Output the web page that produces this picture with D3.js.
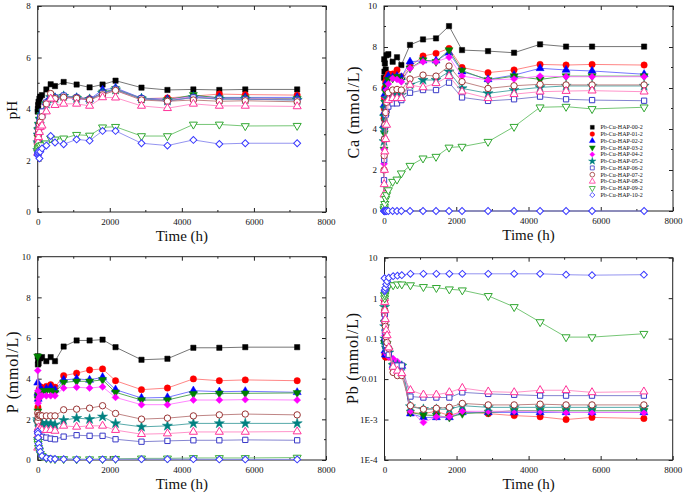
<!DOCTYPE html>
<html><head><meta charset="utf-8">
<script src="https://cdn.jsdelivr.net/npm/d3@7"></script>
<style>
body{margin:0;background:#fff}
svg{display:block}
svg text{font-family:"Liberation Serif","DejaVu Serif",serif !important;fill:#111}
</style></head>
<body><svg id="c" width="685" height="493"></svg>
<script>
// ---------- DATA ----------
const times = [1, 6, 12, 24, 48, 72, 120, 240, 360, 480, 720, 1080, 1440, 1800, 2160, 2880, 3600, 4320, 5040, 5760, 7200];
const seriesNames = ["Pb-Cu-HAP-00-2","Pb-Cu-HAP-01-2","Pb-Cu-HAP-02-2","Pb-Cu-HAP-03-2","Pb-Cu-HAP-04-2","Pb-Cu-HAP-05-2","Pb-Cu-HAP-06-2","Pb-Cu-HAP-07-2","Pb-Cu-HAP-08-2","Pb-Cu-HAP-09-2","Pb-Cu-HAP-10-2"];
const xTicks = [0, 2000, 4000, 6000, 8000];
const pHTicks = [0, 2, 4, 6, 8];
const concTicks = [0, 2, 4, 6, 8, 10];
const pbTicks = [1e-4, 1e-3, 0.01, 0.1, 1, 10];
const pbTickLabels = ["1E-4", "1E-3", "0.01", "0.1", "1", "10"];

const pHValues = [
 [3.9,4.0,4.15,4.28,4.4,4.48,4.54,4.76,4.96,4.89,5.05,4.95,4.84,4.95,5.1,4.83,4.74,4.76,4.74,4.76,4.76],
 [2.3,2.6,2.9,3.1,3.3,3.5,3.8,4.2,4.5,4.4,4.45,4.45,4.4,4.6,4.75,4.4,4.43,4.5,4.58,4.56,4.54],
 [2.5,2.8,3.1,3.3,3.5,3.7,3.85,4.25,4.5,4.45,4.5,4.45,4.38,4.74,4.82,4.42,4.38,4.5,4.45,4.45,4.45],
 [2.6,2.9,3.2,3.4,3.6,3.75,3.9,4.2,4.45,4.42,4.48,4.42,4.35,4.65,4.78,4.4,4.35,4.55,4.42,4.42,4.4],
 [2.2,2.5,2.8,3.0,3.2,3.4,3.7,4.15,4.45,4.4,4.45,4.4,4.35,4.6,4.72,4.38,4.35,4.48,4.4,4.4,4.38],
 [2.4,2.7,3.0,3.2,3.4,3.6,3.8,4.2,4.45,4.42,4.5,4.42,4.38,4.62,4.75,4.4,4.32,4.45,4.38,4.38,4.35],
 [2.4,2.7,3.0,3.3,3.5,3.7,3.9,4.25,4.5,4.45,4.52,4.45,4.38,4.62,4.78,4.42,4.3,4.45,4.4,4.38,4.35],
 [2.5,2.8,3.0,3.2,3.4,3.5,3.7,4.2,4.6,4.4,4.45,4.42,4.35,4.55,4.72,4.35,4.3,4.35,4.3,4.32,4.28],
 [2.3,2.5,2.7,2.9,3.1,3.3,3.35,3.9,4.4,4.15,4.2,4.2,4.12,4.45,4.44,4.12,4.03,4.2,4.12,4.12,4.1],
 [2.3,2.4,2.45,2.5,2.55,2.58,2.6,2.67,2.86,2.82,2.86,3.0,2.97,3.29,3.31,2.95,2.95,3.4,3.4,3.34,3.35],
 [2.2,2.25,2.3,2.35,2.08,2.34,2.47,2.58,2.95,2.7,2.63,2.82,2.77,3.15,3.15,2.67,2.58,2.8,2.64,2.67,2.67]
];
const caValues = [
 [6.5,7.4,6.8,7.2,6.9,7.6,7.65,7.28,7.5,7.12,8.1,8.37,8.42,9.02,7.85,7.8,7.72,8.13,8.02,8.02,8.02],
 [4.5,5.0,5.5,6.0,6.3,6.5,6.68,6.68,6.88,6.55,7.04,7.56,7.69,7.93,7.0,6.75,6.88,7.15,7.12,7.15,7.12],
 [4.2,4.8,5.2,5.7,6.0,6.3,6.58,6.52,6.58,6.52,7.28,7.33,7.33,7.72,6.8,6.42,6.63,6.96,6.88,6.83,6.67],
 [3.0,3.8,4.6,5.3,5.8,6.1,6.4,6.47,6.55,6.39,6.96,7.36,7.28,7.85,6.85,6.39,6.58,6.42,6.58,6.58,6.58],
 [2.3,3.0,4.0,4.8,5.5,5.9,6.2,6.47,6.42,6.3,6.96,7.28,7.28,7.5,6.58,6.39,6.44,6.58,6.55,6.55,6.55],
 [3.4,4.0,4.6,5.0,5.3,5.5,5.66,5.7,5.7,5.66,6.15,6.39,6.39,6.8,5.98,5.74,5.9,6.03,6.1,6.1,6.1],
 [1.5,2.5,3.5,4.2,4.7,4.9,5.09,5.25,5.25,5.41,5.77,5.9,5.9,6.26,5.54,5.37,5.45,5.58,5.45,5.41,5.38],
 [2.0,2.7,3.5,4.2,4.8,5.3,5.77,5.9,5.93,5.9,6.44,6.63,6.58,7.07,6.31,5.98,6.11,6.18,6.15,6.15,6.15],
 [0.8,1.3,2.0,2.9,3.5,4.2,5.41,5.5,5.5,5.5,6.15,6.03,6.23,6.58,5.82,5.5,5.7,5.82,5.85,5.87,5.82],
 [0.05,0.1,0.2,0.35,0.6,0.78,1.02,1.43,1.54,1.84,2.21,2.57,2.65,3.1,3.14,3.38,4.11,5.06,5.09,4.98,5.06],
 [0,0,0,0,0,0,0,0,0,0,0,0,0,0,0,0,0,0,0,0,0]
];
const pValues = [
 [5.1,4.7,4.9,4.75,5.05,5.0,5.06,4.86,5.06,4.86,5.58,5.88,5.88,5.92,5.55,4.93,4.98,5.52,5.52,5.55,5.55],
 [3.2,2.6,3.0,3.3,3.5,3.6,3.54,3.62,3.7,3.58,4.15,4.27,4.43,4.48,3.9,3.46,3.54,3.99,3.9,3.94,3.9],
 [3.8,3.3,3.0,3.2,3.4,3.5,3.41,3.5,3.58,3.44,3.94,3.99,3.94,4.07,3.46,3.05,3.08,3.41,3.36,3.38,3.33],
 [5.1,2.4,3.0,3.2,3.3,3.4,3.35,3.4,3.41,3.3,3.82,3.87,3.87,3.94,3.33,2.95,2.95,3.25,3.28,3.28,3.3],
 [4.4,3.4,2.8,3.0,3.1,3.15,3.16,3.16,3.16,3.16,3.54,3.58,3.54,3.6,3.08,2.72,2.72,2.95,2.95,2.97,2.95],
 [2.0,1.9,1.85,1.8,1.8,1.8,1.8,1.8,1.8,1.73,1.96,2.06,2.01,2.13,1.8,1.63,1.68,1.8,1.8,1.8,1.8],
 [1.4,1.35,1.3,1.2,1.15,1.14,1.14,1.1,1.05,1.02,1.15,1.22,1.19,1.19,1.02,0.9,0.94,0.97,0.97,0.99,0.97],
 [2.3,1.9,2.1,2.2,2.2,2.2,2.17,2.17,2.17,2.17,2.47,2.5,2.55,2.67,2.29,2.01,2.06,2.17,2.22,2.26,2.22],
 [0.6,1.2,1.5,1.6,1.5,1.5,1.47,1.47,1.47,1.43,1.68,1.63,1.68,1.68,1.47,1.27,1.3,1.38,1.38,1.38,1.4],
 [1.0,0.9,0.8,0.6,0.45,0.3,0.2,0.1,0.07,0.05,0.05,0.04,0.04,0.05,0.06,0.08,0.08,0.1,0.1,0.1,0.12],
 [1.4,1.3,1.1,0.8,0.6,0.4,0.2,0.1,0.06,0.05,0.04,0.03,0.02,0.03,0.04,0.04,0.04,0.04,0.03,0.03,0.03]
];
const pbValues = [
 null,
 [0.4,0.09,0.04,0.035,0.035,0.038,0.035,0.022,0.022,0.021,0.0015,0.0014,0.0016,0.00125,0.0016,0.0014,0.00125,0.00117,0.001,0.00113,0.00106],
 [0.3,0.1,0.05,0.04,0.04,0.04,0.04,0.022,0.022,0.021,0.0014,0.00113,0.00113,0.00113,0.0015,0.0015,0.0015,0.0015,0.0015,0.0015,0.0015],
 [0.25,0.08,0.075,0.07,0.07,0.075,0.05,0.022,0.022,0.021,0.0015,0.0013,0.00125,0.00113,0.0014,0.0015,0.00165,0.00165,0.00165,0.00165,0.00165],
 [0.8,0.23,0.12,0.06,0.045,0.04,0.035,0.032,0.027,0.021,0.0016,0.00085,0.00117,0.00117,0.0016,0.0016,0.0016,0.0016,0.0015,0.0015,0.0015],
 [0.6,0.2,0.1,0.07,0.06,0.055,0.045,0.022,0.022,0.021,0.0021,0.0018,0.0018,0.0018,0.0022,0.002,0.002,0.002,0.002,0.002,0.002],
 [0.9,0.4,0.15,0.1,0.07,0.05,0.04,0.0216,0.0216,0.0216,0.0037,0.0035,0.0035,0.0035,0.0047,0.0043,0.0041,0.0039,0.0039,0.0039,0.0039],
 [0.8,0.5,0.26,0.2,0.11,0.08,0.057,0.0146,0.0122,0.0122,0.0022,0.0018,0.0019,0.002,0.0025,0.0023,0.0023,0.0024,0.0023,0.0023,0.0023],
 [1.0,0.8,0.5,0.3,0.16,0.12,0.06,0.02,0.016,0.0139,0.0053,0.0041,0.0041,0.0047,0.006,0.0049,0.0047,0.0053,0.0053,0.0047,0.0049],
 [1.2,1.0,1.18,1.35,1.6,1.9,2.1,2.1,2.2,2.2,2.1,1.9,1.8,1.66,1.57,1.14,0.607,0.257,0.109,0.109,0.132],
 [3.1,1.5,1.6,1.8,2.2,2.6,3.2,3.5,3.6,3.7,4.0,4.0,4.0,4.0,4.0,4.0,4.0,4.0,3.8,3.7,3.8]
];

// ---------- STYLE ----------
const FONT = '"Liberation Serif","DejaVu Serif",serif';
const colors = ["#000000","#ff0000","#0000ff","#008000","#ff00ff","#008080","#3a3ac8","#993333","#ff3399","#33a833","#3a3aff"];
const lineColors = ["#666666","#ff7777","#6666ff","#44a044","#ff77ff","#44a0a0","#7777cc","#b87777","#ff88c4","#66c066","#8888ee"];
const shapes = ["square","circle","triangle","triangleDown","diamond","star","square","circle","triangle","triangleDown","diamond"];
const filled = [true,true,true,true,true,true,false,false,false,false,false];

function symPath(shape, s) {
  switch (shape) {
    case "square": return d3.symbol(d3.symbolSquare, 28*s)();
    case "circle": return d3.symbol(d3.symbolCircle, 32*s)();
    case "triangle": return d3.symbol(d3.symbolTriangle, 28*s)();
    case "triangleDown": return d3.symbol(d3.symbolTriangle, 28*s)();
    case "diamond": return d3.symbol(d3.symbolSquare, 24*s)();
    case "star": return d3.symbol(d3.symbolStar, 32*s)();
  }
}
function symRot(shape){ return shape==="triangleDown" ? 180 : (shape==="diamond" ? 45 : 0); }

const svg = d3.select("#c").attr("font-family", FONT);

const panels = [
  {x0:37.7, x1:326, y0:6, y1:212, data:pHValues, domain:[0,8], ticks:pHTicks, minor:[1,3,5,7], title:"pH", tx:12, ty:110, log:false},
  {x0:384, x1:673, y0:6, y1:211, data:caValues, domain:[0,10], ticks:concTicks, minor:[1,3,5,7,9], title:"Ca (mmol/L)", tx:353, ty:112, log:false, legend:true},
  {x0:37.7, x1:326, y0:256.7, y1:460, data:pValues, domain:[0,10], ticks:concTicks, minor:[1,3,5,7,9], title:"P (mmol/L)", tx:12, ty:372, log:false},
  {x0:384.5, x1:672.7, y0:257.7, y1:460, data:pbValues, domain:[1e-4,10], ticks:pbTicks, minor:[], title:"Pb (mmol/L)", tx:352, ty:358, log:true}
];

panels.forEach(p => {
  const x = d3.scaleLinear().domain([0,8000]).range([p.x0, p.x1]);
  const y = (p.log ? d3.scaleLog() : d3.scaleLinear()).domain(p.domain).range([p.y1, p.y0]);
  const g = svg.append("g");

  g.append("rect").attr("x",p.x0).attr("y",p.y0).attr("width",p.x1-p.x0).attr("height",p.y1-p.y0)
    .attr("fill","none").attr("stroke","#222").attr("stroke-width",1);

  const xAxB = d3.axisBottom(x).tickValues(xTicks).tickSizeInner(-4).tickSizeOuter(0).tickPadding(7).tickFormat(d3.format("d"));
  const gxb = g.append("g").attr("transform",`translate(0,${p.y1})`).call(xAxB).attr("font-family", FONT);
  gxb.select(".domain").remove();
  gxb.selectAll("text").attr("font-size",9).attr("fill","#222");
  const xAxT = d3.axisTop(x).tickValues(xTicks).tickSizeInner(-4).tickSizeOuter(0).tickFormat("");
  const gxt = g.append("g").attr("transform",`translate(0,${p.y0})`).call(xAxT);
  gxt.select(".domain").remove();
  [1000,3000,5000,7000].forEach(v=>{
    g.append("line").attr("x1",x(v)).attr("x2",x(v)).attr("y1",p.y1).attr("y2",p.y1-2).attr("stroke","#222");
    g.append("line").attr("x1",x(v)).attr("x2",x(v)).attr("y1",p.y0).attr("y2",p.y0+2).attr("stroke","#222");
  });

  const yAxL = d3.axisLeft(y).tickValues(p.ticks).tickSizeInner(-4).tickSizeOuter(0).tickPadding(7)
    .tickFormat(p.log ? ((d,i)=>pbTickLabels[i]) : d3.format("d"));
  const gyl = g.append("g").attr("transform",`translate(${p.x0},0)`).call(yAxL).attr("font-family", FONT);
  gyl.select(".domain").remove();
  gyl.selectAll("text").attr("font-size",9).attr("fill","#222");
  const yAxR = d3.axisRight(y).tickValues(p.ticks).tickSizeInner(-4).tickSizeOuter(0).tickFormat("");
  const gyr = g.append("g").attr("transform",`translate(${p.x1},0)`).call(yAxR);
  gyr.select(".domain").remove();
  p.minor.forEach(v=>{
    g.append("line").attr("x1",p.x0).attr("x2",p.x0+2).attr("y1",y(v)).attr("y2",y(v)).attr("stroke","#222");
    g.append("line").attr("x1",p.x1).attr("x2",p.x1-2).attr("y1",y(v)).attr("y2",y(v)).attr("stroke","#222");
  });
  g.selectAll(".tick line").attr("stroke","#222");

  g.append("text").attr("x",(p.x0+p.x1)/2).attr("y",p.y1+29).attr("text-anchor","middle")
    .attr("font-size",15).text("Time (h)");
  g.append("text").attr("transform",`translate(${p.tx},${p.ty}) rotate(-90)`).attr("text-anchor","middle")
    .attr("dominant-baseline","central").attr("font-size",p.title==="pH"?15:16).attr("letter-spacing",p.title==="pH"?0:0.8).text(p.title);

  const line = d3.line().x((d,i)=>x(times[i])).y(d=>y(d));
  p.data.forEach((vals, si) => {
    if (!vals) return;
    g.append("path").datum(vals).attr("d", line).attr("fill","none")
      .attr("stroke", lineColors[si]).attr("stroke-width",0.9);
    g.selectAll(null).data(vals).enter().append("path")
      .attr("d", symPath(shapes[si], 1))
      .attr("transform",(d,i)=>`translate(${x(times[i])},${y(d)}) rotate(${symRot(shapes[si])})`)
      .attr("fill", filled[si] ? colors[si] : "#fff")
      .attr("stroke", colors[si]).attr("stroke-width", filled[si] ? 0.5 : 1);
  });

  if (p.legend) {
    const lg = g.append("g");
    seriesNames.forEach((n, si) => {
      const yy = 127.3 + si*6.77;
      lg.append("path").attr("d", symPath(shapes[si], 0.55))
        .attr("transform",`translate(592.3,${yy}) rotate(${symRot(shapes[si])})`)
        .attr("fill", filled[si] ? colors[si] : "#fff")
        .attr("stroke", colors[si]).attr("stroke-width", filled[si] ? 0.4 : 0.8);
      lg.append("text").attr("x",600.5).attr("y",yy).attr("dominant-baseline","central")
        .attr("font-size",6).attr("fill","#222").text(n);
    });
  }
});
</script></body></html>
